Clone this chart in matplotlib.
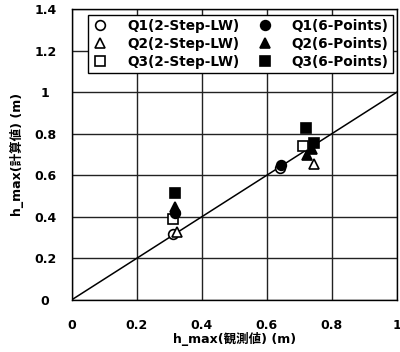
import matplotlib
matplotlib.use('Agg')
import matplotlib.pyplot as plt

plt.rcParams['font.family'] = ['DejaVu Sans', 'Noto Sans CJK JP']
plt.rcParams['font.weight'] = 'bold'

# observed (x) / computed (y) values
q1_lw_x = [0.313, 0.640]
q1_lw_y = [0.318, 0.635]
q1_6p_x = [0.318, 0.645]
q1_6p_y = [0.420, 0.648]
q2_lw_x = [0.325, 0.745]
q2_lw_y = [0.325, 0.655]
q2_6p_x = [0.318, 0.725, 0.740]
q2_6p_y = [0.445, 0.700, 0.725]
q3_lw_x = [0.313, 0.711]
q3_lw_y = [0.390, 0.740]
q3_6p_x = [0.318, 0.720, 0.745]
q3_6p_y = [0.515, 0.827, 0.755]

xticks = [0, 0.2, 0.4, 0.6, 0.8, 1]
yticks = [0, 0.2, 0.4, 0.6, 0.8, 1, 1.2, 1.4]
tick_labels_x = ['0', '0.2', '0.4', '0.6', '0.8', '1']
tick_labels_y = ['0', '0.2', '0.4', '0.6', '0.8', '1', '1.2', '1.4']

fig = plt.figure(figsize=(4, 3.52), dpi=100)
ax = fig.add_axes([0.179, 0.148, 0.813, 0.826])

ax.plot([0, 1], [0, 1], color='black', lw=1.1, zorder=2)

mk = dict(ls='none', ms=7, mec='black', mew=1.2, zorder=3)
ax.plot(q1_lw_x, q1_lw_y, marker='o', mfc='white', label='Q1(2-Step-LW)', **mk)
ax.plot(q2_lw_x, q2_lw_y, marker='^', mfc='white', label='Q2(2-Step-LW)', **mk)
ax.plot(q3_lw_x, q3_lw_y, marker='s', mfc='white', label='Q3(2-Step-LW)', **mk)
ax.plot(q1_6p_x, q1_6p_y, marker='o', mfc='black', label='Q1(6-Points)', **mk)
ax.plot(q2_6p_x, q2_6p_y, marker='^', mfc='black', label='Q2(6-Points)', **mk)
ax.plot(q3_6p_x, q3_6p_y, marker='s', mfc='black', label='Q3(6-Points)', **mk)

ax.set_xlim(0, 1)
ax.set_ylim(0, 1.4)
ax.set_xticks(xticks)
ax.set_xticklabels(tick_labels_x)
ax.set_yticks(yticks)
ax.set_yticklabels(tick_labels_y, ha='center')
ax.tick_params(labelsize=9, length=0)
ax.tick_params(axis='x', pad=14)
ax.tick_params(axis='y', pad=19)
ax.grid(True, color='#222222', lw=1.0)
ax.set_axisbelow(True)
for s in ax.spines.values():
    s.set_color('black')
    s.set_linewidth(1.0)

ax.set_xlabel('h_max(観測値) (m)', fontsize=9, fontweight='bold', labelpad=0)
ax.set_ylabel('h_max(計算値) (m)', fontsize=9, fontweight='bold', labelpad=7)

leg = ax.legend(ncol=2, loc='upper left', bbox_to_anchor=(0.05, 0.98),
                borderaxespad=0, fontsize=9.8, frameon=True, fancybox=False,
                edgecolor='black', framealpha=1, handletextpad=1.4,
                columnspacing=1.25, labelspacing=0.3, borderpad=0.3,
                handlelength=1.2)
leg.get_frame().set_linewidth(1.0)

fig.savefig('out.png', dpi=100)
